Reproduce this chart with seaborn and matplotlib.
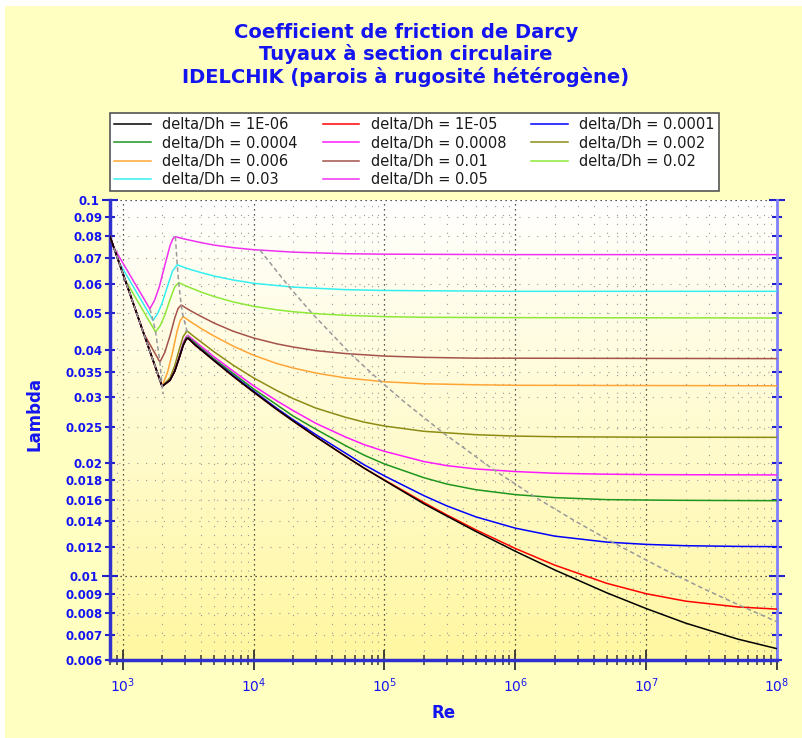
import matplotlib
matplotlib.use("Agg")
import matplotlib.pyplot as plt
import matplotlib.ticker as mticker
from matplotlib.colors import LinearSegmentedColormap
from matplotlib.lines import Line2D
from matplotlib.patches import Rectangle
import numpy as np
import seaborn as sns

# Reynolds number / friction factor points, one pair per roughness
re_smooth = [800, 2000, 2300, 2500, 2700, 2900, 3050, 3150, 3600, 4000, 5000, 7000,
             1e4, 1.5e4, 2e4, 3e4, 5e4, 7e4, 1e5, 2e5, 3e5, 5e5, 1e6, 2e6, 5e6, 1e7,
             2e7, 5e7, 1e8]

lam_d1e6 = [0.08, 0.032, 0.0332, 0.0351, 0.0380, 0.0411, 0.0426, 0.0430, 0.0411, 0.0399,
            0.0374, 0.0340, 0.0309, 0.0278, 0.0259, 0.0235, 0.0209, 0.0194, 0.0180, 0.0156,
            0.01447, 0.01317, 0.01167, 0.01041, 0.00905, 0.00822, 0.00752, 0.00682, 0.00643]
lam_d1e5 = [0.08, 0.032, 0.0332, 0.0351, 0.0380, 0.0411, 0.0426, 0.0430, 0.0411, 0.0399,
            0.0374, 0.0340, 0.0309, 0.0278, 0.0259, 0.0235, 0.0209, 0.0194, 0.01805, 0.01573,
            0.01457, 0.0133, 0.01187, 0.01072, 0.00959, 0.0090, 0.0086, 0.0083, 0.00819]
lam_d1e4 = [0.08, 0.032, 0.0332, 0.0351, 0.0380, 0.0411, 0.0426, 0.0430, 0.0412, 0.0400,
            0.0375, 0.0342, 0.0311, 0.0280, 0.0261, 0.0238, 0.0213, 0.0198, 0.0185, 0.0164,
            0.0154, 0.0144, 0.01344, 0.0128, 0.01234, 0.01217, 0.01207, 0.01202, 0.0120]
lam_d4e4 = [0.08, 0.032, 0.0332, 0.0352, 0.0382, 0.0414, 0.0429, 0.0433, 0.0416, 0.0403,
            0.0378, 0.0346, 0.0315, 0.0286, 0.0267, 0.0246, 0.0223, 0.0210, 0.0199, 0.0183,
            0.0176, 0.0170, 0.0165, 0.0162, 0.0160, 0.01596, 0.01593, 0.01591, 0.0159]
lam_d8e4 = [0.08, 0.032, 0.0332, 0.0353, 0.0384, 0.0417, 0.0433, 0.0437, 0.0420, 0.0408,
            0.0383, 0.0351, 0.0321, 0.0293, 0.0276, 0.0255, 0.0235, 0.0224, 0.0215, 0.0202,
            0.0197, 0.0193, 0.0190, 0.0188, 0.01869, 0.01865, 0.01863, 0.01862, 0.01861]

re_d2e3 = [800, 2000, 2300, 2500, 2700, 2900, 3100, 3500, 4000, 5000, 7000, 1e4, 1.5e4,
           2e4, 3e4, 5e4, 7e4, 1e5, 2e5, 5e5, 1e6, 2e6, 1e7, 1e8]
lam_d2e3 = [0.08, 0.032, 0.0337, 0.0363, 0.0400, 0.0434, 0.0449, 0.0434, 0.0419, 0.0395,
            0.0364, 0.0337, 0.0312, 0.0297, 0.0280, 0.0265, 0.0257, 0.0251, 0.0243, 0.0238,
            0.0236, 0.02351, 0.02344, 0.02342]

re_d6e3 = [800, 2000, 2200, 2400, 2600, 2750, 2900, 3300, 4000, 5000, 7000, 1e4, 1.5e4,
           2e4, 3e4, 5e4, 1e5, 2e5, 5e5, 1e6, 1e8]
lam_d6e3 = [0.08, 0.032, 0.0348, 0.0393, 0.0447, 0.0478, 0.0490, 0.0475, 0.0455, 0.0435,
            0.0409, 0.0387, 0.0368, 0.0358, 0.0347, 0.0337, 0.0329, 0.0325, 0.0323, 0.0322,
            0.0321]

re_d1e2 = [800, 1444, 1925, 2100, 2300, 2500, 2650, 2800, 3300, 4000, 5000, 7000, 1e4,
           1.5e4, 2e4, 3e4, 5e4, 1e5, 2e5, 5e5, 1e6, 1e8]
lam_d1e2 = [0.08, 0.0443, 0.0371, 0.0394, 0.0436, 0.0486, 0.0515, 0.0526, 0.0508, 0.0490,
            0.0471, 0.0448, 0.0430, 0.0415, 0.0407, 0.0398, 0.0391, 0.0385, 0.0382, 0.0380,
            0.0380, 0.0379]

re_d2e2 = [800, 1043, 1784, 1950, 2100, 2300, 2500, 2680, 3200, 4000, 5000, 7000, 1e4,
           1.5e4, 2e4, 3e4, 5e4, 1e5, 2e5, 1e6, 1e8]
lam_d2e2 = [0.08, 0.0614, 0.0446, 0.0466, 0.0495, 0.0544, 0.0588, 0.0603, 0.0587, 0.0569,
            0.0554, 0.0536, 0.0522, 0.0511, 0.0505, 0.0499, 0.0494, 0.0490, 0.0488, 0.0487,
            0.0486]

re_d3e2 = [800, 936, 1706, 1850, 2000, 2200, 2400, 2611, 3100, 4000, 5000, 7000, 1e4, 2e4,
           5e4, 1e5, 1e6, 1e8]
lam_d3e2 = [0.08, 0.0684, 0.0479, 0.0499, 0.0532, 0.0590, 0.0647, 0.0673, 0.0658, 0.0641,
            0.0628, 0.0613, 0.0601, 0.0587, 0.0578, 0.0575, 0.0572, 0.0572]

re_d5e2 = [800, 858, 1613, 1750, 1900, 2100, 2300, 2420, 2527, 3000, 4000, 5000, 7000, 1e4,
           2e4, 5e4, 1e5, 1e6, 1e8]
lam_d5e2 = [0.08, 0.0746, 0.0514, 0.0541, 0.0586, 0.0671, 0.0756, 0.0789, 0.0799, 0.0787,
            0.0770, 0.0759, 0.0747, 0.0738, 0.0727, 0.0720, 0.0718, 0.0716, 0.0716]

# grey dashed limit lines
re0_re = [858, 936, 1043, 1444, 2000]
re0_lam = [0.0746, 0.0684, 0.0614, 0.0443, 0.032]
re1_re = [1613, 1706, 1784, 1925, 2000, 2040]
re1_lam = [0.0514, 0.0479, 0.0446, 0.0371, 0.032, 0.0305]
re2_re = [2527, 2611, 2680, 2800, 2900, 3100, 3150]
re2_lam = [0.0799, 0.0673, 0.0603, 0.0526, 0.0490, 0.0449, 0.0432]
relim_re = [11200, 18700, 28000, 56000, 93300, 1.4e5, 2.8e5, 7e5, 1.4e6, 2.8e6, 5.6e6,
            1.4e7, 2.8e7, 5.6e7, 1e8]
relim_lam = [0.0736, 0.0588, 0.0500, 0.0388, 0.0330, 0.0292, 0.0241, 0.0191, 0.0163,
             0.0141, 0.0123, 0.0104, 0.00925, 0.00828, 0.00758]

labels = ["delta/Dh = 1E-06", "delta/Dh = 1E-05", "delta/Dh = 0.0001",
          "delta/Dh = 0.0004", "delta/Dh = 0.0008", "delta/Dh = 0.002",
          "delta/Dh = 0.006", "delta/Dh = 0.01", "delta/Dh = 0.02",
          "delta/Dh = 0.03", "delta/Dh = 0.05"]
colors = ["#000000", "#FF0000", "#0000FF", "#1E961E", "#FF1AFF", "#8C8C14",
          "#FFA536", "#A5524A", "#8EE838", "#33F0F0", "#F030F0"]

y_major = [0.01, 0.1]
y_minor = [0.006, 0.007, 0.008, 0.009, 0.012, 0.014, 0.016, 0.018, 0.02, 0.025,
           0.03, 0.035, 0.04, 0.05, 0.06, 0.07, 0.08, 0.09]


def main():
    curves = [(re_smooth, lam_d1e6), (re_smooth, lam_d1e5), (re_smooth, lam_d1e4),
              (re_smooth, lam_d4e4), (re_smooth, lam_d8e4), (re_d2e3, lam_d2e3),
              (re_d6e3, lam_d6e3), (re_d1e2, lam_d1e2), (re_d2e2, lam_d2e2),
              (re_d3e2, lam_d3e2), (re_d5e2, lam_d5e2)]
    blue = "#1414F0"

    fig = plt.figure(figsize=(8.03, 7.38), dpi=100, facecolor="white")
    fig.patches.append(Rectangle((5 / 803, 0), 1, 732 / 738, transform=fig.transFigure,
                                 facecolor="#FFFFC2", edgecolor="none", zorder=-10))

    pos = [110 / 803, 78 / 738, 667 / 803, 460 / 738]
    bg = fig.add_axes(pos, zorder=0)
    cmap = LinearSegmentedColormap.from_list("bg", ["#FFFFFF", "#FFF7A0"])
    bg.imshow(np.linspace(0, 1, 256).reshape(-1, 1), cmap=cmap, aspect="auto",
              extent=[0, 1, 0, 1], origin="upper")
    bg.axis("off")

    ax = fig.add_axes(pos, zorder=1)
    ax.patch.set_alpha(0)
    ax.set_xscale("log")
    ax.set_yscale("log")

    # draw roughest first so the smooth black curve ends on top
    for i in reversed(range(len(curves))):
        re, lam = curves[i]
        sns.lineplot(x=re, y=lam, color=colors[i], linewidth=1.1, ax=ax, zorder=3)

    for re, lam in [(re0_re, re0_lam), (re1_re, re1_lam), (re2_re, re2_lam),
                    (relim_re, relim_lam)]:
        sns.lineplot(x=re, y=lam, color="#9A9A9A", linewidth=1.1, ax=ax, zorder=4,
                     dashes=False, linestyle=(0, (3, 2)))

    ax.set_xlim(800, 1e8)
    ax.set_ylim(0.006, 0.1)

    ax.xaxis.set_major_locator(mticker.LogLocator(base=10))
    ax.xaxis.set_minor_locator(mticker.LogLocator(base=10, subs=range(2, 10)))
    ax.xaxis.set_major_formatter(mticker.LogFormatterMathtext())
    ax.xaxis.set_minor_formatter(mticker.NullFormatter())
    ax.yaxis.set_major_locator(mticker.FixedLocator(y_major))
    ax.yaxis.set_minor_locator(mticker.FixedLocator(y_minor))
    fmt = mticker.FuncFormatter(lambda v, _: f"{v:g}")
    ax.yaxis.set_major_formatter(fmt)
    ax.yaxis.set_minor_formatter(fmt)

    ax.tick_params(axis="x", which="major", direction="inout", length=14, width=1.3,
                   color="#333333", labelcolor=blue, labelsize=10, pad=5, top=False)
    ax.tick_params(axis="x", which="minor", direction="inout", length=7, width=1.1,
                   color="#333333", top=False)
    ax.tick_params(axis="y", which="major", direction="inout", length=12, width=1.5,
                   color="#2222CC", labelcolor=blue, labelsize=8.5, pad=2, right=True)
    ax.tick_params(axis="y", which="minor", direction="inout", length=7, width=1.5,
                   color="#2222CC", labelcolor=blue, labelsize=8.5, pad=2, right=True)
    for t in ax.get_yticklabels(which="both"):
        t.set_fontweight("bold")

    ax.set_axisbelow(True)
    ax.grid(True, which="major", color="#222222", linestyle=(0, (1, 3)), linewidth=0.9)
    ax.grid(True, which="minor", color="#999999", linestyle=(0, (1, 7)), linewidth=0.8)

    for side in ["left", "bottom"]:
        ax.spines[side].set_color("#3030D0")
        ax.spines[side].set_linewidth(2.5)
    ax.spines["right"].set_color("#8080FF")
    ax.spines["right"].set_linewidth(2)
    ax.spines["top"].set_visible(False)

    ax.set_xlabel("Re", fontsize=12, fontweight="bold", color=blue)
    ax.xaxis.set_label_coords(0.5, -0.095)
    ax.set_ylabel("Lambda", fontsize=12, fontweight="bold", color=blue)
    ax.yaxis.set_label_coords(-0.099, 0.535)

    titles = ["Coefficient de friction de Darcy", "Tuyaux à section circulaire",
              "IDELCHIK (parois à rugosité hétérogène)"]
    for k, line in enumerate(titles):
        fig.text(406 / 803, 1 - (32 + 22.5 * k) / 738, line, ha="center", va="center",
                 fontsize=14, fontweight="bold", color=blue)

    # legend filled row by row like the original
    handles = [Line2D([], [], color=c, linewidth=1.1) for c in colors]
    order = [0, 3, 6, 9, 1, 4, 7, 10, 2, 5, 8]
    leg = fig.legend([handles[i] for i in order], [labels[i] for i in order],
                     loc="upper left", bbox_to_anchor=(110 / 803, 1 - 113 / 738),
                     ncol=3, fontsize=10.5, frameon=True, fancybox=False,
                     edgecolor="#555555", framealpha=1, borderpad=0.3,
                     labelspacing=0.22, handlelength=2.5, handletextpad=0.8,
                     columnspacing=1.7, borderaxespad=0)
    leg.get_frame().set_linewidth(1.2)
    for t in leg.get_texts():
        t.set_color("#1A1A1A")

    fig.savefig("out.png", dpi=100)


if __name__ == "__main__":
    main()
